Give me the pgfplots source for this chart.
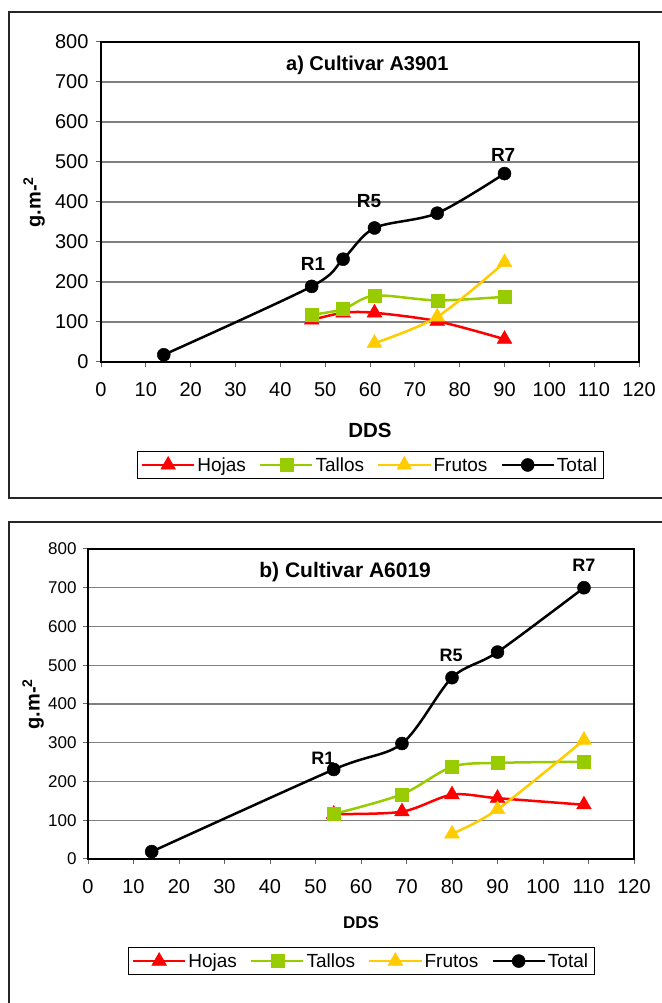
\documentclass[border=0pt]{standalone}
\usepackage{fontspec}
\setmainfont{Liberation Sans}
\usepackage{pgfplots}
\pgfplotsset{compat=1.18}
\definecolor{hoj}{RGB}{255,0,0}
\definecolor{tal}{RGB}{153,204,0}
\definecolor{fru}{RGB}{255,204,0}
\definecolor{gridc}{RGB}{128,128,128}
\newcommand{\legtxt}[1]{\vphantom{Hj}#1}

\pgfplotsset{
 mystyle/.style={
  scale only axis,
  xmin=0,xmax=120,ymin=0,ymax=800,
  xtick={0,10,...,120}, ytick={0,100,...,800},
  xtick pos=bottom, ytick pos=left,
  axis line style={line width=2.5pt},
  ymajorgrids, major grid style={gridc,line width=1.3pt},
  tick align=outside, major tick length=5pt,
  tick style={black!60,line width=1pt},
  /pgf/number format/assume math mode=true,
  legend columns=4,
  legend cell align=left,
  legend style={draw=black,line width=0.8pt, font=\fontsize{19}{23}\selectfont,
     /tikz/every even column/.append style={column sep=11pt},
     inner sep=4pt, anchor=north},
  legend image code/.code={\draw[mark repeat=2,mark phase=2] plot coordinates {(0pt,0pt) (26pt,0pt) (52pt,0pt)};},
  every axis plot/.append style={line width=2.5pt, smooth},
  clip=false,
 },
 hojas/.style={hoj, mark=triangle*, mark size=8.5pt, mark options={solid,fill=hoj,line width=0.5pt}},
 tallos/.style={tal, mark=square*, mark size=6.5pt, mark options={solid,fill=tal,line width=0.5pt}},
 frutos/.style={fru, mark=triangle*, mark size=8.5pt, mark options={solid,fill=fru,line width=0.5pt}},
 total/.style={black, mark=*, mark size=6.5pt, mark options={solid,fill=black,line width=0.5pt}},
}

\begin{document}
\begin{tikzpicture}[x=1pt,y=1pt]
\useasboundingbox (0,0) rectangle (661,1003);
\draw[line width=1.3pt, black!85] (9,991) rectangle (675,505);
\draw[line width=1.3pt, black!85] (9,-10) -- (9,481) -- (675,481);

% Panel a
\begin{axis}[mystyle,
  at={(101pt,641pt)}, anchor=south west,
  width=538pt, height=320pt,
  xticklabel style={font=\fontsize{20}{24}\selectfont, yshift=-12pt},
  yticklabel style={font=\fontsize{20}{24}\selectfont, xshift=-4pt},
  xlabel={\bfseries DDS},
  xlabel style={font=\fontsize{20.5}{24}\selectfont, at={(axis description cs:0.5,-0.2125)}, anchor=center},
  ylabel={\bfseries g.m-\textsuperscript{2}},
  ylabel style={font=\fontsize{20}{24}\selectfont, at={(axis description cs:-0.1245,0.5)}, anchor=center},
  legend style={at={(0.5,-0.278)}},
]
\addplot[hojas] coordinates {(47,105) (54,123) (61,123) (75,102) (90,57)};
\addlegendentry{\legtxt{Hojas}}
\addplot[tallos] coordinates {(47,118) (54,132) (61,166) (75,154) (90,163)};
\addlegendentry{\legtxt{Tallos}}
\addplot[frutos] coordinates {(61,47) (75,113) (90,249)};
\addlegendentry{\legtxt{Frutos}}
\addplot[total] coordinates {(14,18) (47,189) (54,257) (61,335) (75,372) (90,471)};
\addlegendentry{\legtxt{Total}}
\node[font=\fontsize{20}{24}\selectfont\bfseries] at (axis description cs:0.495,0.928) {a) Cultivar A3901};
\node[font=\fontsize{19}{23}\selectfont\bfseries] at (axis cs:47.3,245) {R1};
\node[font=\fontsize{19}{23}\selectfont\bfseries] at (axis cs:59.8,402) {R5};
\node[font=\fontsize{19}{23}\selectfont\bfseries] at (axis cs:89.7,517) {R7};
\end{axis}

% Panel b
\begin{axis}[mystyle,
  at={(88pt,144pt)}, anchor=south west,
  width=546pt, height=310pt,
  xticklabel style={font=\fontsize{20}{24}\selectfont, yshift=-12pt},
  yticklabel style={font=\fontsize{17}{20}\selectfont, xshift=-3pt},
  xlabel={\bfseries DDS},
  xlabel style={font=\fontsize{17}{20}\selectfont, at={(axis description cs:0.5,-0.206)}, anchor=center},
  ylabel={\bfseries g.m-\textsuperscript{2}},
  ylabel style={font=\fontsize{20}{24}\selectfont, at={(axis description cs:-0.1007,0.5)}, anchor=center},
  legend style={at={(0.5,-0.284)}},
]
\addplot[hojas] coordinates {(54,116) (69,122) (80,166) (90,157) (109,140)};
\addlegendentry{\legtxt{Hojas}}
\addplot[tallos] coordinates {(54,116) (69,167) (80,238) (90,248) (109,251)};
\addlegendentry{\legtxt{Tallos}}
\addplot[frutos] coordinates {(80,65) (90,128) (109,307)};
\addlegendentry{\legtxt{Frutos}}
\addplot[total] coordinates {(14,19) (54,231) (69,298) (80,468) (90,534) (109,700)};
\addlegendentry{\legtxt{Total}}
\node[font=\fontsize{21}{25}\selectfont\bfseries] at (axis description cs:0.471,0.926) {b) Cultivar A6019};
\node[font=\fontsize{18}{22}\selectfont\bfseries] at (axis cs:51.6,261) {R1};
\node[font=\fontsize{18}{22}\selectfont\bfseries] at (axis cs:79.8,526) {R5};
\node[font=\fontsize{18}{22}\selectfont\bfseries] at (axis cs:109,759) {R7};
\end{axis}
\end{tikzpicture}
\end{document}
